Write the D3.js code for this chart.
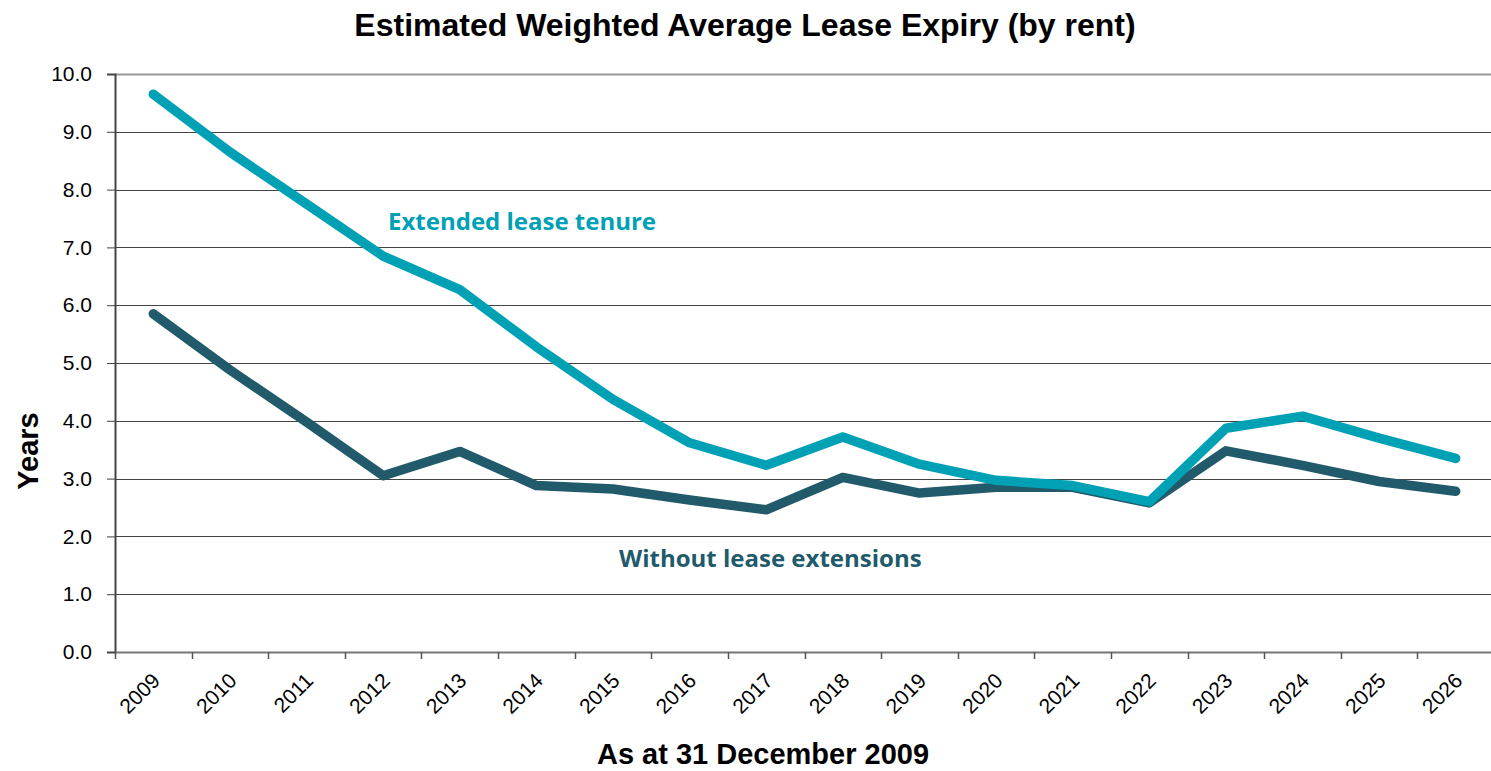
<!DOCTYPE html>
<html>
<head>
<meta charset="utf-8">
<script src="https://cdn.jsdelivr.net/npm/d3@7"></script>
<style>
  body { margin: 0; background: #fff; }
  svg { display: block; }
</style>
</head>
<body>
<div id="plot"></div>
<script>
// data
let years = ["2009","2010","2011","2012","2013","2014","2015","2016","2017","2018","2019","2020","2021","2022","2023","2024","2025","2026"];
let extended = [9.65, 8.65, 7.75, 6.85, 6.27, 5.28, 4.37, 3.62, 3.23, 3.72, 3.25, 2.97, 2.88, 2.6, 3.87, 4.08, 3.7, 3.35];
let without = [5.85, 4.88, 3.98, 3.05, 3.47, 2.88, 2.82, 2.63, 2.46, 3.02, 2.75, 2.85, 2.85, 2.58, 3.48, 3.23, 2.95, 2.78];
let yTicks = [0, 1, 2, 3, 4, 5, 6, 7, 8, 9, 10];

let W = 1491, H = 771;
let margin = {top: 74, right: -3, bottom: 119, left: 115};
let width = W - margin.left - margin.right;
let height = H - margin.top - margin.bottom;

let svg = d3.select("#plot")
	.append("svg")
		.attr("width", W)
		.attr("height", H)
	.append("g")
		.attr("transform", "translate(" + margin.left + "," + margin.top + ")");

let x = d3.scaleBand()
	.domain(years)
	.range([0, width]);

let y = d3.scaleLinear()
	.domain([0, 10])
	.range([height, 0]);

// gridlines
svg.selectAll(".grid")
	.data(yTicks.filter(d => d > 0))
	.enter()
	.append("line")
		.attr("x1", 0)
		.attr("x2", width)
		.attr("y1", d => Math.round(y(d)) + 0.5)
		.attr("y2", d => Math.round(y(d)) + 0.5)
		.attr("stroke", d => d == 10 ? "#999" : "#444")
		.attr("stroke-width", d => d == 10 ? 2 : 1);

// y axis
let yAxis = svg.append("g")
	.call(d3.axisLeft(y).tickValues(yTicks).tickFormat(d3.format(".1f")).tickSize(8).tickPadding(15));
yAxis.select(".domain").attr("stroke", "#444").attr("stroke-width", 2);
yAxis.selectAll(".tick line").attr("stroke", "#444");
yAxis.selectAll("text")
	.style("font-family", "Liberation Sans, Arial, sans-serif")
	.style("font-size", "21px")
	.attr("fill", "#000");

// x axis
let xAxis = svg.append("g")
	.attr("transform", "translate(0," + height + ")")
	.call(d3.axisBottom(x).tickSize(0).tickFormat(""));
xAxis.select(".domain").attr("stroke", "#777").attr("stroke-width", 2);

// category boundary ticks
svg.selectAll(".xtick")
	.data(years)
	.enter()
	.append("line")
		.attr("x1", d => Math.round(x(d)) + 0.5)
		.attr("x2", d => Math.round(x(d)) + 0.5)
		.attr("y1", height)
		.attr("y2", height + 7)
		.attr("stroke", "#555")
		.attr("stroke-width", 1.5);

svg.selectAll(".xlabel")
	.data(years)
	.enter()
	.append("text")
		.attr("transform", d => "translate(" + (x(d) + x.bandwidth() / 2 + 8) + "," + (height + 30) + ") rotate(-45)")
		.attr("text-anchor", "end")
		.style("font-family", "Liberation Sans, Arial, sans-serif")
		.style("font-size", "21px")
		.text(d => d);

// lines
let line = d3.line()
	.x((d, i) => x(years[i]) + x.bandwidth() / 2)
	.y(d => y(d));

svg.append("path")
	.datum(without)
	.attr("d", line)
	.attr("fill", "none")
	.attr("stroke", "#215A6A")
	.attr("stroke-width", 9.5)
	.attr("stroke-linecap", "round")
	.attr("stroke-linejoin", "round");

svg.append("path")
	.datum(extended)
	.attr("d", line)
	.attr("fill", "none")
	.attr("stroke", "#00A1B5")
	.attr("stroke-width", 9.5)
	.attr("stroke-linecap", "round")
	.attr("stroke-linejoin", "round");

// series labels
let root = d3.select("#plot svg");
root.append("text")
	.attr("x", 388)
	.attr("y", 230)
	.attr("fill", "#00A1B5")
	.style("font-family", "Open Sans, sans-serif")
	.style("font-weight", "bold")
	.style("font-size", "24px")
	.text("Extended lease tenure");

root.append("text")
	.attr("x", 619)
	.attr("y", 567)
	.attr("fill", "#215A6A")
	.style("font-family", "Open Sans, sans-serif")
	.style("font-weight", "bold")
	.style("font-size", "24px")
	.text("Without lease extensions");

// titles
root.append("text")
	.attr("x", 745)
	.attr("y", 36)
	.attr("text-anchor", "middle")
	.style("font-family", "Liberation Sans, Arial, sans-serif")
	.style("font-weight", "bold")
	.style("font-size", "32px")
	.text("Estimated Weighted Average Lease Expiry (by rent)");

root.append("text")
	.attr("x", 763)
	.attr("y", 764)
	.attr("text-anchor", "middle")
	.style("font-family", "Liberation Sans, Arial, sans-serif")
	.style("font-weight", "bold")
	.style("font-size", "29px")
	.text("As at 31 December 2009");

root.append("text")
	.attr("transform", "translate(38,451) rotate(-90)")
	.attr("text-anchor", "middle")
	.style("font-family", "Liberation Sans, Arial, sans-serif")
	.style("font-weight", "bold")
	.style("font-size", "29px")
	.text("Years");
</script>
</body>
</html>
